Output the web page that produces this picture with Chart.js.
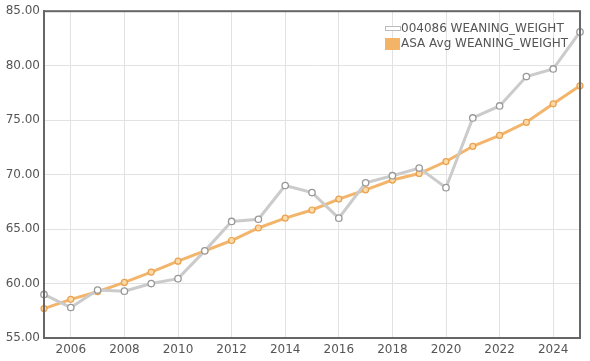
<!DOCTYPE html>
<html>
<head>
<meta charset="utf-8">
<script src="https://cdn.jsdelivr.net/npm/chart.js@4"></script>
<style>
  html, body { margin: 0; padding: 0; background: #fff; }
  #wrap { width: 590px; height: 361px; }
</style>
</head>
<body>
<div id="wrap"><canvas id="chart" width="590" height="361"></canvas></div>
<script>
// chart data
const years = [2005, 2006, 2007, 2008, 2009, 2010, 2011, 2012, 2013, 2014, 2015,
               2016, 2017, 2018, 2019, 2020, 2021, 2022, 2023, 2024, 2025];
const animalWeights = [59.0, 57.8, 59.4, 59.3, 60.0, 60.45, 63.0, 65.7, 65.9, 69.0, 68.35,
                       66.0, 69.25, 69.9, 70.6, 68.8, 75.2, 76.3, 79.0, 79.7, 83.1];
const asaAvgWeights = [57.7, 58.55, 59.25, 60.1, 61.05, 62.05, 63.0, 63.95, 65.1, 66.0, 66.75,
                       67.75, 68.6, 69.5, 70.1, 71.2, 72.6, 73.6, 74.8, 76.5, 78.15];
const xTicks = [2006, 2008, 2010, 2012, 2014, 2016, 2018, 2020, 2022, 2024];
const seriesNames = ['004086 WEANING_WEIGHT', 'ASA Avg WEANING_WEIGHT'];

const FONT = 'DejaVu Sans, Verdana, sans-serif';
const TEXT = '#555';

// legend inside the plot + full frame around the plot area
const framePlugin = {
    id: 'frameLegend',
    afterDraw(chart) {
        const ctx = chart.ctx;
        const a = chart.chartArea;
        ctx.save();
        ctx.strokeStyle = '#666';
        ctx.lineWidth = 2;
        ctx.strokeRect(a.left, a.top, a.right - a.left, a.bottom - a.top);

        // legend
        const lx = 385, ly1 = 29, ly2 = 44;
        ctx.fillStyle = '#fff';
        ctx.strokeStyle = '#bbb';
        ctx.lineWidth = 1;
        ctx.fillRect(385.5, 26.5, 15, 4);
        ctx.strokeRect(385.5, 26.5, 15, 4);
        ctx.fillStyle = '#f3b467';
        ctx.fillRect(385, 38, 15, 12);
        ctx.font = '12px ' + FONT;
        ctx.fillStyle = TEXT;
        ctx.textBaseline = 'middle';
        ctx.fillText(seriesNames[0], lx + 16, ly1);
        ctx.fillText(seriesNames[1], lx + 16, ly2);
        ctx.restore();
    }
};

const ctx = document.getElementById('chart').getContext('2d');
const chart = new Chart(ctx, {
    type: 'line',
    data: {
        datasets: [
            {
                label: seriesNames[0],
                data: years.map((y, i) => ({ x: y, y: animalWeights[i] })),
                borderColor: '#cbcbcb',
                borderWidth: 3,
                pointRadius: 3.2,
                pointBackgroundColor: '#fff',
                pointBorderColor: '#999',
                pointBorderWidth: 1.3,
                tension: 0,
                clip: false
            },
            {
                label: seriesNames[1],
                data: years.map((y, i) => ({ x: y, y: asaAvgWeights[i] })),
                borderColor: '#f2b56b',
                borderWidth: 3,
                pointRadius: 3,
                pointBackgroundColor: '#fcd9a6',
                pointBorderColor: '#e8a14f',
                pointBorderWidth: 1.2,
                tension: 0,
                clip: false
            }
        ]
    },
    options: {
        responsive: false,
        animation: false,
        layout: { padding: { top: 11, right: 10, left: 0, bottom: 0 } },
        plugins: {
            legend: { display: false },
            tooltip: { enabled: false }
        },
        scales: {
            x: {
                type: 'linear',
                min: 2005,
                max: 2025,
                afterBuildTicks: (scale) => { scale.ticks = xTicks.map(v => ({ value: v })); },
                afterFit: (scale) => { scale.height = 23; },
                ticks: {
                    color: TEXT,
                    font: { family: FONT, size: 12 },
                    padding: 5,
                    maxRotation: 0,
                    callback: (v) => String(v)
                },
                grid: { color: '#e2e2e2', drawTicks: false },
                border: { color: '#666', width: 2 }
            },
            y: {
                min: 55,
                max: 85,
                afterFit: (scale) => { scale.width = 44; },
                ticks: {
                    stepSize: 5,
                    color: TEXT,
                    font: { family: FONT, size: 12 },
                    padding: 4,
                    callback: (v) => v.toFixed(2)
                },
                grid: { color: '#e2e2e2', drawTicks: false },
                border: { color: '#666', width: 2 }
            }
        }
    },
    plugins: [framePlugin]
});
</script>
</body>
</html>
